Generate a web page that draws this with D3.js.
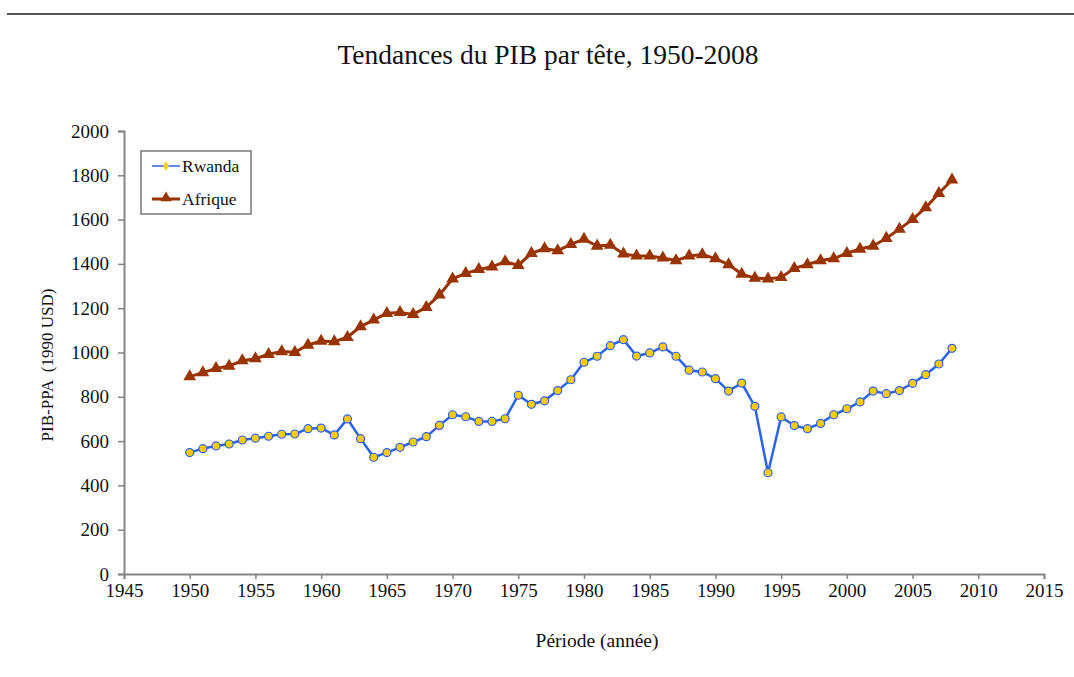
<!DOCTYPE html>
<html>
<head>
<meta charset="utf-8">
<script src="https://cdn.jsdelivr.net/npm/d3@7"></script>
<style>
body{margin:0;background:#fff;}
svg{display:block;}
svg text{font-family:"Liberation Serif","Times New Roman",serif !important;}
</style>
</head>
<body>
<svg id="chart" width="1074" height="677"></svg>
<script>
const years = d3.range(1950, 2009);
const rwanda = [548,566,578,587,605,613,622,631,632,656,
                659,628,700,611,527,548,572,596,620,671,
                719,710,689,689,701,807,766,782,828,877,
                956,983,1031,1058,984,998,1025,983,920,912,
                882,826,862,757,457,709,670,656,680,719,
                746,777,826,814,828,861,900,948,1019];
const afrique = [891,909,928,939,963,972,992,1004,1001,1034,
                 1052,1049,1069,1117,1147,1177,1181,1172,1204,1260,
                 1333,1357,1375,1387,1410,1394,1448,1469,1460,1488,
                 1512,1481,1485,1445,1436,1436,1427,1415,1436,1442,
                 1424,1397,1354,1336,1333,1339,1380,1397,1415,1424,
                 1448,1467,1481,1516,1557,1601,1654,1719,1779];
const xTicks = d3.range(1945, 2016, 5);
const yTicks = d3.range(0, 2001, 200);
const seriesNames = ["Rwanda", "Afrique"];
const titleText = "Tendances du PIB par tête, 1950-2008";
const xTitle = "Période (année)";
const yTitle = "PIB-PPA  (1990 USD)";

const svg = d3.select("#chart");
const x = d3.scaleLinear().domain([1945, 2015]).range([124, 1044]);
const y = d3.scaleLinear().domain([0, 2000]).range([574, 131]);

const axisColor = "#858585";
const textColor = "#111";

// top rule
svg.append("line").attr("x1", 7).attr("x2", 1074).attr("y1", 14).attr("y2", 14)
  .attr("stroke", "#555").attr("stroke-width", 2);

// title
svg.append("text").attr("x", 548).attr("y", 64).attr("text-anchor", "middle")
  .style("font-size", "27.5px").attr("fill", textColor).text(titleText);

// y axis
const yAxis = svg.append("g").attr("transform", "translate(124,0)")
  .call(d3.axisLeft(y).tickValues(yTicks).tickSize(6).tickPadding(9).tickFormat(d3.format("d")));
// x axis
const xAxis = svg.append("g").attr("transform", "translate(0,574)")
  .call(d3.axisBottom(x).tickValues(xTicks).tickSize(5).tickPadding(5).tickFormat(d3.format("d")));
[yAxis, xAxis].forEach(g => {
  g.attr("font-size", null).attr("font-family", null);
  g.select(".domain").attr("stroke", axisColor).attr("stroke-width", 2);
  g.selectAll(".tick line").attr("stroke", axisColor).attr("stroke-width", 1.5);
  g.selectAll(".tick text").attr("fill", textColor).style("font-size", "19px");
});

// axis titles
svg.append("text").attr("x", 597).attr("y", 647).attr("text-anchor", "middle")
  .style("font-size", "19.5px").attr("fill", textColor).text(xTitle);
svg.append("text").attr("transform", "translate(53,365) rotate(-90)")
  .attr("text-anchor", "middle").style("font-size", "17px").attr("fill", textColor)
  .style("white-space", "pre").text(yTitle);

const line = d3.line().x((d, i) => x(years[i])).y(d => y(d));

const rwColor = "#2b62f0", afColor = "#993300", yellow = "#ffcc00";

// Afrique
svg.append("path").datum(afrique).attr("d", line).attr("fill", "none")
  .attr("stroke", afColor).attr("stroke-width", 3);
const tri = d3.symbol().type(d3.symbolTriangle).size(70);
svg.append("g").selectAll("path").data(afrique).join("path")
  .attr("d", tri).attr("transform", (d, i) => `translate(${x(years[i])},${y(d)})`)
  .attr("fill", afColor);

// Rwanda
svg.append("path").datum(rwanda).attr("d", line).attr("fill", "none")
  .attr("stroke", rwColor).attr("stroke-width", 2.5);
svg.append("g").selectAll("circle").data(rwanda).join("circle")
  .attr("cx", (d, i) => x(years[i])).attr("cy", d => y(d)).attr("r", 4)
  .attr("fill", yellow).attr("stroke", rwColor).attr("stroke-width", 1.2);

// legend
const lg = svg.append("g");
lg.append("rect").attr("x", 141).attr("y", 151).attr("width", 110).attr("height", 63)
  .attr("fill", "#fff").attr("stroke", "#777").attr("stroke-width", 1.5);
const ly = [166, 199];
lg.append("line").attr("x1", 152).attr("x2", 180).attr("y1", ly[0]).attr("y2", ly[0])
  .attr("stroke", rwColor).attr("stroke-width", 1.5);
lg.append("path").attr("d", d3.symbol().type(d3.symbolDiamond).size(28))
  .attr("transform", `translate(166,${ly[0]})`).attr("fill", yellow);
lg.append("line").attr("x1", 152).attr("x2", 180).attr("y1", ly[1]).attr("y2", ly[1])
  .attr("stroke", afColor).attr("stroke-width", 3);
lg.append("path").attr("d", d3.symbol().type(d3.symbolTriangle).size(55))
  .attr("transform", `translate(166,${ly[1] - 1})`).attr("fill", afColor);
seriesNames.forEach((n, i) => {
  lg.append("text").attr("x", 182).attr("y", ly[i] + 6).style("font-size", "17.5px")
    .attr("fill", textColor).text(n);
});
</script>
</body>
</html>
